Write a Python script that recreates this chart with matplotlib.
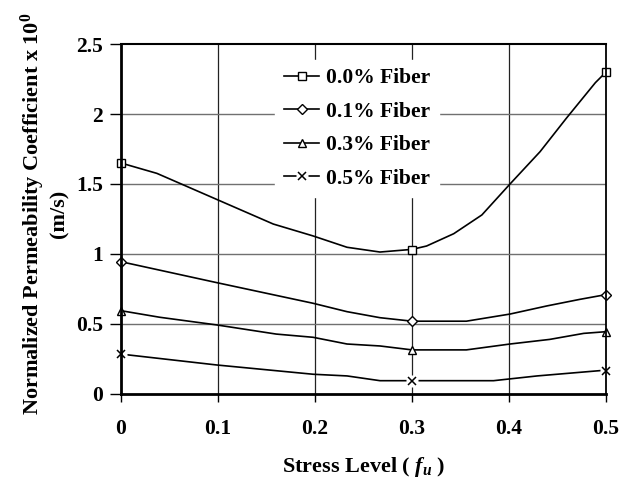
import matplotlib
matplotlib.use('Agg')
import matplotlib.pyplot as plt
from matplotlib.lines import Line2D
from matplotlib.legend_handler import HandlerTuple

plt.rcParams['font.family'] = ['Liberation Serif', 'DejaVu Serif']
plt.rcParams['font.weight'] = 'bold'
plt.rcParams['mathtext.fontset'] = 'custom'
plt.rcParams['mathtext.rm'] = 'Liberation Serif:bold'
plt.rcParams['mathtext.it'] = 'Liberation Serif:bold:italic'
plt.rcParams['mathtext.bf'] = 'Liberation Serif:bold'

# measured points (markers)
stress = [0.0, 0.3, 0.5]
fiber_labels = ['0.0% Fiber', '0.1% Fiber', '0.3% Fiber', '0.5% Fiber']
k_00 = [1.65, 1.03, 2.30]
k_01 = [0.945, 0.52, 0.71]
k_03 = [0.595, 0.315, 0.445]
k_05 = [0.285, 0.095, 0.167]

# curve traces
x_00 = [0, 0.037, 0.157, 0.198, 0.233, 0.267, 0.3, 0.315, 0.343, 0.372, 0.401, 0.432, 0.459, 0.489, 0.5]
y_00 = [1.65, 1.576, 1.214, 1.129, 1.048, 1.014, 1.033, 1.057, 1.145, 1.279, 1.5, 1.731, 1.969, 2.224, 2.30]
x_01 = [0, 0.099, 0.198, 0.233, 0.267, 0.3, 0.356, 0.401, 0.439, 0.473, 0.5]
y_01 = [0.945, 0.795, 0.648, 0.588, 0.545, 0.52, 0.52, 0.571, 0.629, 0.676, 0.71]
x_03 = [0, 0.04, 0.099, 0.16, 0.198, 0.233, 0.267, 0.3, 0.356, 0.401, 0.442, 0.477, 0.5]
y_03 = [0.595, 0.548, 0.493, 0.428, 0.405, 0.357, 0.343, 0.315, 0.315, 0.357, 0.39, 0.433, 0.445]
x_05 = [0, 0.099, 0.198, 0.233, 0.267, 0.3, 0.384, 0.429, 0.494, 0.5]
y_05 = [0.285, 0.207, 0.141, 0.129, 0.095, 0.095, 0.095, 0.129, 0.167, 0.167]

fig = plt.figure(figsize=(6.3, 4.82), dpi=100)
ax = fig.add_axes([0.192, 0.1826, 0.770, 0.7261])

ax.set_xlim(0, 0.5)
ax.set_ylim(0, 2.5)
ax.set_xticks([0, 0.1, 0.2, 0.3, 0.4, 0.5])
ax.set_xticklabels(['0', '0.1', '0.2', '0.3', '0.4', '0.5'])
ax.set_yticks([0, 0.5, 1, 1.5, 2, 2.5])
ax.set_yticklabels(['0', '0.5', '1', '1.5', '2', '2.5'])

# grid
for v in [0.1, 0.2, 0.3, 0.4]:
    ax.axvline(v, color='#222222', lw=0.9, zorder=1)
for h in [0.5, 1, 1.5, 2]:
    ax.axhline(h, color='#707070', lw=1.0, zorder=1)

lw = 1.2
ax.plot(x_00, y_00, color='k', lw=lw, zorder=3)
ax.plot(x_01, y_01, color='k', lw=lw, zorder=3)
ax.plot(x_03, y_03, color='k', lw=lw, zorder=3)
ax.plot(x_05, y_05, color='k', lw=lw, zorder=3)

mk = dict(ls='none', mfc='white', mec='k', mew=1.0, clip_on=False, zorder=5)
ax.plot(stress, k_00, marker='s', ms=6, **mk)
ax.plot(stress, k_01, marker='D', ms=5, **mk)
ax.plot(stress, k_03, marker='^', ms=6, **mk)
ax.plot(stress, k_05, marker='s', ms=9, ls='none', mfc='white', mec='none',
        clip_on=False, zorder=4)
ax.plot(stress, k_05, marker='x', ms=6, ls='none', mec='k', mew=1.1,
        clip_on=False, zorder=5)

for s in ['left', 'bottom']:
    ax.spines[s].set_linewidth(2.0)
ax.spines['top'].set_linewidth(1.5)
ax.spines['right'].set_linewidth(1.3)
for s in ax.spines.values():
    s.set_zorder(6)

ax.tick_params(axis='x', direction='out', length=6, width=1.0, pad=12, labelsize=15.5)
ax.tick_params(axis='y', direction='out', length=8, width=1.0, pad=5, labelsize=15.5)
ax.tick_params(top=False, right=False)

# legend
h00 = Line2D([], [], color='k', lw=lw, marker='s', ms=6, mfc='white', mec='k')
h01 = Line2D([], [], color='k', lw=lw, marker='D', ms=5, mfc='white', mec='k')
h03 = Line2D([], [], color='k', lw=lw, marker='^', ms=6, mfc='white', mec='k')
h05a = Line2D([], [], color='k', lw=lw)
h05b = Line2D([], [], ls='none', marker='s', ms=9, mfc='white', mec='none')
h05c = Line2D([], [], ls='none', marker='x', ms=6, mec='k', mew=1.1)
leg = ax.legend([h00, h01, h03, (h05a, h05b, h05c)], fiber_labels,
                handler_map={tuple: HandlerTuple(ndivide=1)},
                loc='upper left', bbox_to_anchor=(0.318, 0.955),
                frameon=True, fancybox=False, framealpha=1, edgecolor='white',
                prop={'family': 'Liberation Serif', 'weight': 'bold', 'size': 15.5},
                handlelength=1.65, handletextpad=0.3, labelspacing=0.62,
                borderpad=0.4, borderaxespad=0)
leg.set_zorder(7)

fig.text(0.5 * (0.192 + 0.962), 0.031, 'Stress Level ( $f_u$ )',
         ha='center', va='center', fontsize=16, fontweight='bold')
fig.text(0.070, 0.556,
         'Normalized Permeability Coefficient x 10$^0$\n(m/s)',
         rotation=90, ha='center', va='center', fontsize=16, fontweight='bold',
         multialignment='center', linespacing=1.12)

fig.savefig('out.png', dpi=100)
